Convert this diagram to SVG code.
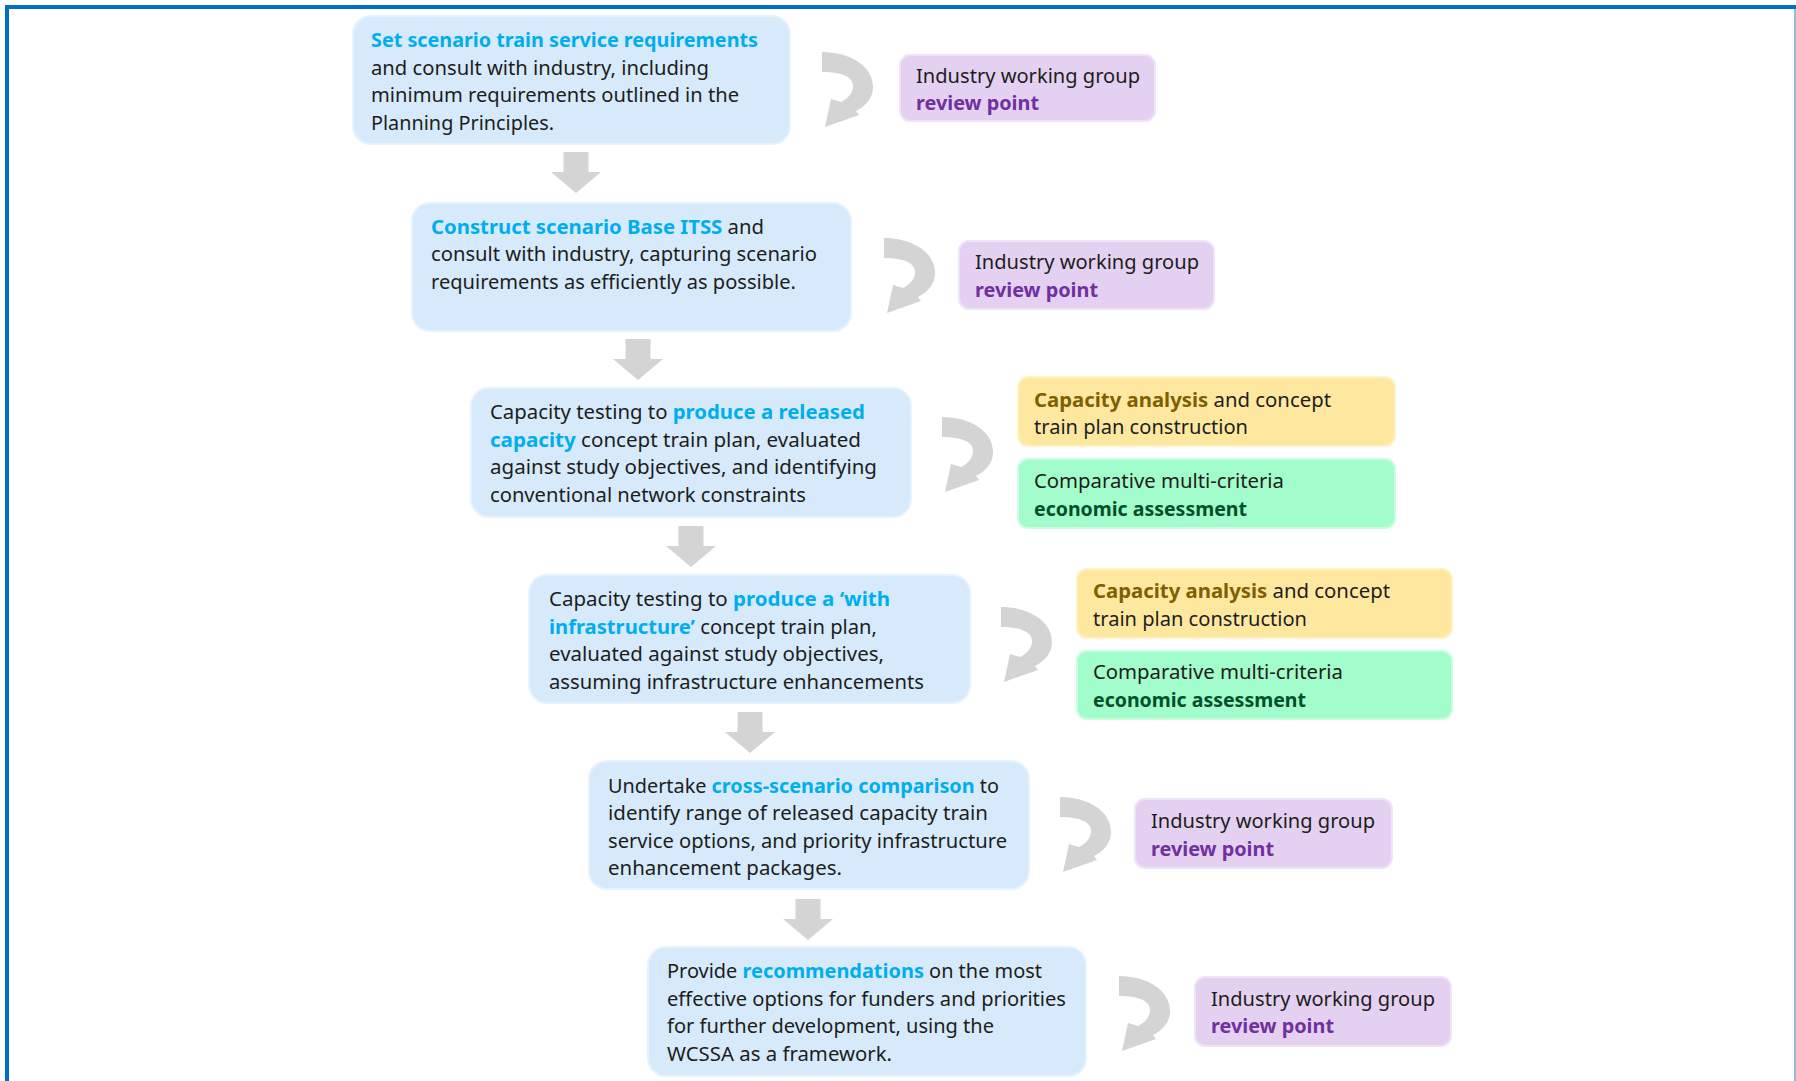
<svg xmlns="http://www.w3.org/2000/svg" xmlns:xlink="http://www.w3.org/1999/xlink" width="1796" height="1081" viewBox="0 0 1796 1081">
<style>
.t{font-family:"Noto Sans","Liberation Sans",sans-serif;font-size:20px;fill:#1d1d1b}
.hb{fill:#00aeef;font-weight:bold}
.hp{fill:#7030a0;font-weight:bold}
.hy{fill:#7f6000;font-weight:bold}
.hg{fill:#00502a;font-weight:bold}
.blue{fill:#d6eafb;stroke:#e6f2fd;stroke-width:2}
.rev{fill:#e4d1f2;stroke:#efe3f8;stroke-width:2}
.yel{fill:#fee8a0;stroke:#fff2c8;stroke-width:2}
.grn{fill:#a2fccb;stroke:#c8fde0;stroke-width:2}
.arr{fill:#d4d4d4}
</style>
<defs>
<path id="down" d="M -12.5,0 H 12.5 V 20 H 25 L 0,41 L -25,20 H -12.5 Z"/>
<path id="curl" d="M0,0 C28,0 51,14 51,35 C51,46 44,54 34,59 L37,63 L3,75 L9,47 L19,50 C27,46 31,40 31,34 C31,25 20,20 0,20 Z"/>
</defs>
<rect width="1796" height="1081" fill="#ffffff"/>
<g id="frame" fill="none">
<line x1="5" y1="7" x2="1796" y2="7" stroke="#0070c0" stroke-width="4"/>
<line x1="7" y1="5" x2="7" y2="1081" stroke="#0070c0" stroke-width="4"/>
<line x1="1795" y1="9" x2="1795" y2="1081" stroke="#6fa3d8" stroke-width="1.5"/>
</g>
<g id="connectors" class="arr">
<use xlink:href="#down" x="576" y="152"/>
<use xlink:href="#down" x="638" y="339"/>
<use xlink:href="#down" x="691" y="526"/>
<use xlink:href="#down" x="750" y="712"/>
<use xlink:href="#down" x="808" y="899"/>
<use xlink:href="#curl" x="822" y="52"/>
<use xlink:href="#curl" x="884" y="238"/>
<use xlink:href="#curl" x="942" y="417"/>
<use xlink:href="#curl" x="1001" y="607"/>
<use xlink:href="#curl" x="1060" y="797"/>
<use xlink:href="#curl" x="1119" y="976"/>
</g>
<g id="step1">
<rect class="blue" x="353" y="16" width="437" height="128" rx="18"/>
<text class="t" x="371" y="47" textLength="387" lengthAdjust="spacingAndGlyphs"><tspan class="hb">Set scenario train service requirements</tspan></text>
<text class="t" x="371" y="74.5" textLength="338" lengthAdjust="spacingAndGlyphs">and consult with industry, including</text>
<text class="t" x="371" y="102" textLength="368" lengthAdjust="spacingAndGlyphs">minimum requirements outlined in the</text>
<text class="t" x="371" y="129.5" textLength="183" lengthAdjust="spacingAndGlyphs">Planning Principles.</text>
</g>
<g id="review1">
<rect class="rev" x="900" y="55" width="255" height="66" rx="10"/>
<text class="t" x="916" y="83" textLength="224" lengthAdjust="spacingAndGlyphs">Industry working group</text>
<text class="t" x="916" y="110" textLength="123" lengthAdjust="spacingAndGlyphs"><tspan class="hp">review point</tspan></text>
</g>
<g id="step2">
<rect class="blue" x="412" y="203" width="439" height="128" rx="18"/>
<text class="t" x="431" y="234" textLength="333" lengthAdjust="spacingAndGlyphs"><tspan class="hb">Construct scenario Base ITSS</tspan> and</text>
<text class="t" x="431" y="261" textLength="386" lengthAdjust="spacingAndGlyphs">consult with industry, capturing scenario</text>
<text class="t" x="431" y="289" textLength="365" lengthAdjust="spacingAndGlyphs">requirements as efficiently as possible.</text>
</g>
<g id="review2">
<rect class="rev" x="959" y="241" width="255" height="68" rx="10"/>
<text class="t" x="975" y="269" textLength="224" lengthAdjust="spacingAndGlyphs">Industry working group</text>
<text class="t" x="975" y="297" textLength="123" lengthAdjust="spacingAndGlyphs"><tspan class="hp">review point</tspan></text>
</g>
<g id="step3">
<rect class="blue" x="471" y="388" width="440" height="129" rx="18"/>
<text class="t" x="490" y="419" textLength="375" lengthAdjust="spacingAndGlyphs">Capacity testing to <tspan class="hb">produce a released</tspan></text>
<text class="t" x="490" y="447" textLength="371" lengthAdjust="spacingAndGlyphs"><tspan class="hb">capacity</tspan> concept train plan, evaluated</text>
<text class="t" x="490" y="474" textLength="387" lengthAdjust="spacingAndGlyphs">against study objectives, and identifying</text>
<text class="t" x="490" y="502" textLength="316" lengthAdjust="spacingAndGlyphs">conventional network constraints</text>
</g>
<g id="capacity3">
<rect class="yel" x="1018" y="377" width="377" height="69" rx="10"/>
<text class="t" x="1034" y="407" textLength="297" lengthAdjust="spacingAndGlyphs"><tspan class="hy">Capacity analysis</tspan> and concept</text>
<text class="t" x="1034" y="434" textLength="214" lengthAdjust="spacingAndGlyphs">train plan construction</text>
</g>
<g id="economic3">
<rect class="grn" x="1018" y="459" width="377" height="69" rx="10"/>
<text class="t" x="1034" y="488" textLength="250" lengthAdjust="spacingAndGlyphs">Comparative multi-criteria</text>
<text class="t" x="1034" y="516" textLength="213" lengthAdjust="spacingAndGlyphs"><tspan class="hg">economic assessment</tspan></text>
</g>
<g id="step4">
<rect class="blue" x="529" y="575" width="441" height="128" rx="18"/>
<text class="t" x="549" y="606" textLength="341" lengthAdjust="spacingAndGlyphs">Capacity testing to <tspan class="hb">produce a ‘with</tspan></text>
<text class="t" x="549" y="634" textLength="328" lengthAdjust="spacingAndGlyphs"><tspan class="hb">infrastructure’</tspan> concept train plan,</text>
<text class="t" x="549" y="661" textLength="335" lengthAdjust="spacingAndGlyphs">evaluated against study objectives,</text>
<text class="t" x="549" y="689" textLength="375" lengthAdjust="spacingAndGlyphs">assuming infrastructure enhancements</text>
</g>
<g id="capacity4">
<rect class="yel" x="1077" y="569" width="375" height="69" rx="10"/>
<text class="t" x="1093" y="598" textLength="297" lengthAdjust="spacingAndGlyphs"><tspan class="hy">Capacity analysis</tspan> and concept</text>
<text class="t" x="1093" y="626" textLength="214" lengthAdjust="spacingAndGlyphs">train plan construction</text>
</g>
<g id="economic4">
<rect class="grn" x="1077" y="651" width="375" height="68" rx="10"/>
<text class="t" x="1093" y="679" textLength="250" lengthAdjust="spacingAndGlyphs">Comparative multi-criteria</text>
<text class="t" x="1093" y="707" textLength="213" lengthAdjust="spacingAndGlyphs"><tspan class="hg">economic assessment</tspan></text>
</g>
<g id="step5">
<rect class="blue" x="589" y="761" width="440" height="128" rx="18"/>
<text class="t" x="608" y="793" textLength="391" lengthAdjust="spacingAndGlyphs">Undertake <tspan class="hb">cross-scenario comparison</tspan> to</text>
<text class="t" x="608" y="820" textLength="380" lengthAdjust="spacingAndGlyphs">identify range of  released capacity train</text>
<text class="t" x="608" y="848" textLength="399" lengthAdjust="spacingAndGlyphs">service options, and priority  infrastructure</text>
<text class="t" x="608" y="875" textLength="234" lengthAdjust="spacingAndGlyphs">enhancement packages.</text>
</g>
<g id="review5">
<rect class="rev" x="1135" y="799" width="257" height="69" rx="10"/>
<text class="t" x="1151" y="828" textLength="224" lengthAdjust="spacingAndGlyphs">Industry working group</text>
<text class="t" x="1151" y="856" textLength="123" lengthAdjust="spacingAndGlyphs"><tspan class="hp">review point</tspan></text>
</g>
<g id="step6">
<rect class="blue" x="648" y="947" width="438" height="129" rx="18"/>
<text class="t" x="667" y="978" textLength="375" lengthAdjust="spacingAndGlyphs">Provide <tspan class="hb">recommendations</tspan> on the most</text>
<text class="t" x="667" y="1006" textLength="399" lengthAdjust="spacingAndGlyphs">effective options for funders and priorities</text>
<text class="t" x="667" y="1033" textLength="327" lengthAdjust="spacingAndGlyphs">for further development, using the</text>
<text class="t" x="667" y="1061" textLength="225" lengthAdjust="spacingAndGlyphs">WCSSA as a framework.</text>
</g>
<g id="review6">
<rect class="rev" x="1195" y="977" width="256" height="69" rx="10"/>
<text class="t" x="1211" y="1006" textLength="224" lengthAdjust="spacingAndGlyphs">Industry working group</text>
<text class="t" x="1211" y="1033" textLength="123" lengthAdjust="spacingAndGlyphs"><tspan class="hp">review point</tspan></text>
</g>
</svg>
